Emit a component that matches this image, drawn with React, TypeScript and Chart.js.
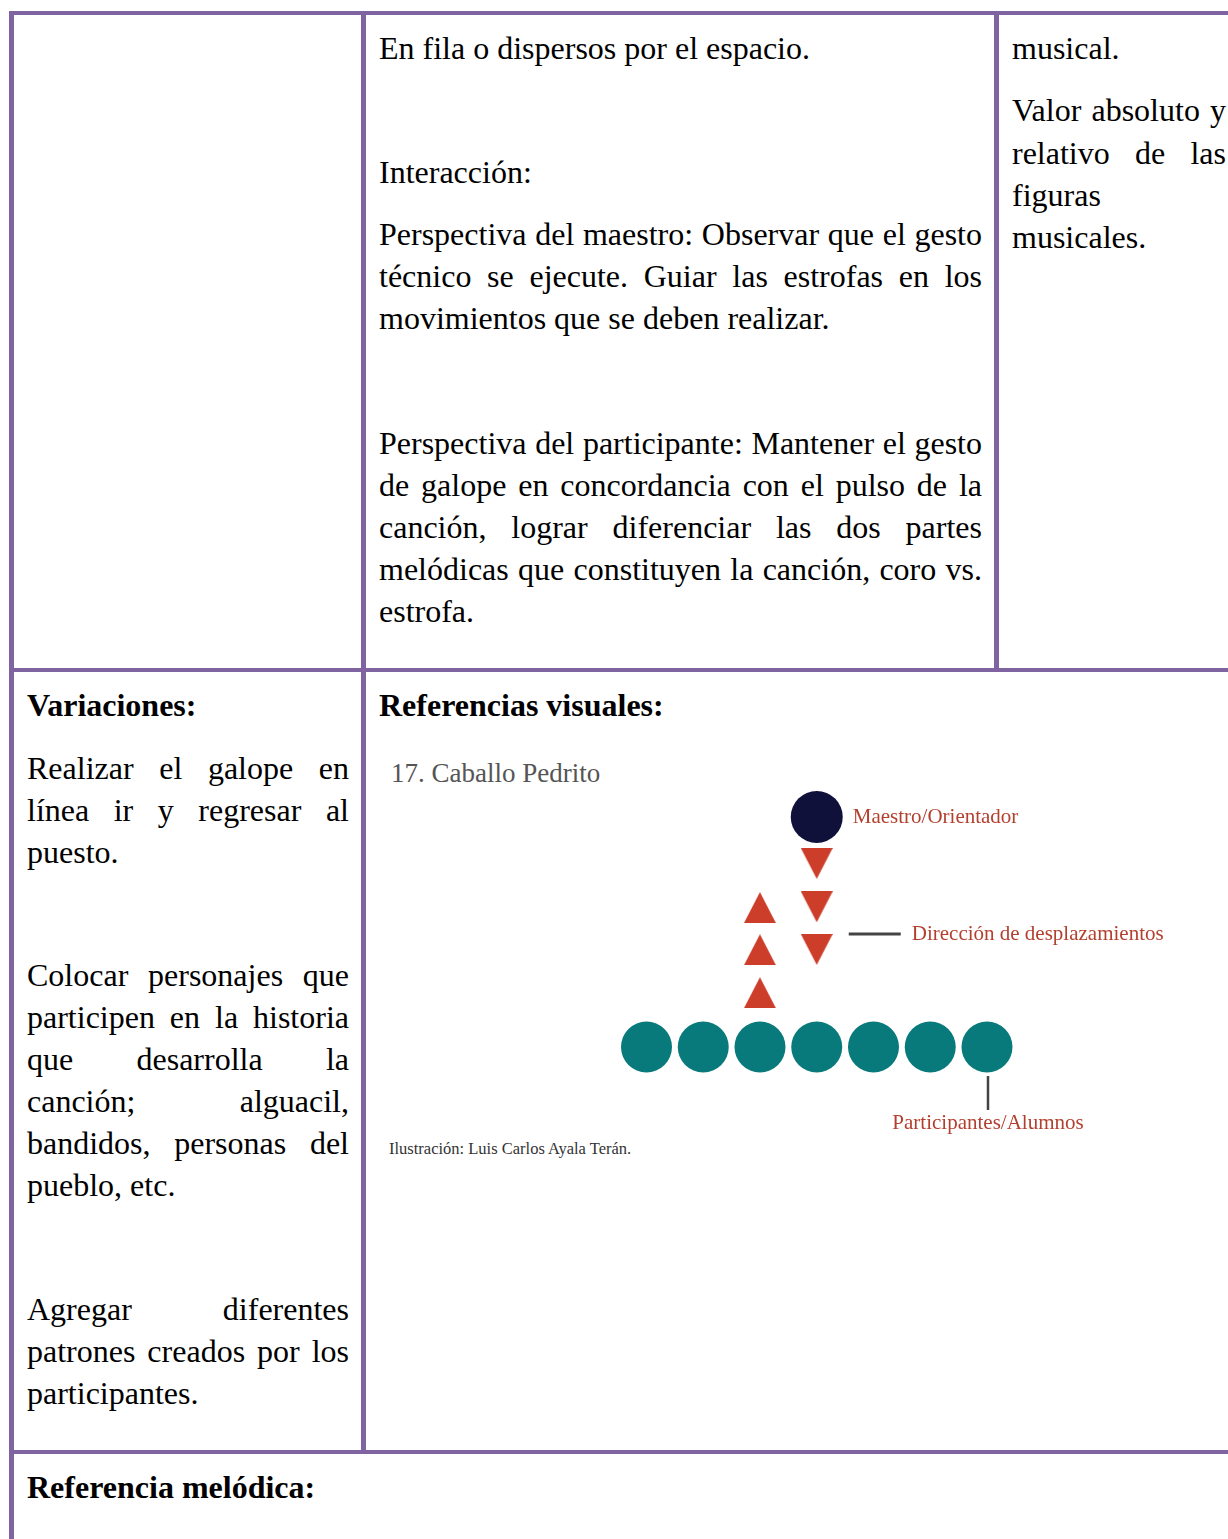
import React, { useEffect, useRef } from "react";
import { Chart, registerables } from "chart.js";

Chart.register(...registerables);

// ---------- diagram data ----------
const participantX = [1, 2, 3, 4, 5, 6, 7];
const participantY = [0, 0, 0, 0, 0, 0, 0];
const teacherX = [4];
const teacherY = [5.35];
const downArrowX = [4, 4, 4];
const downArrowY = [4.27, 3.26, 2.27];
const upArrowX = [3, 3, 3];
const upArrowY = [3.24, 2.26, 1.26];
const noteLabels = ["Maestro/Orientador", "Dirección de desplazamientos", "Participantes/Alumnos"];
const figureTitle = "17. Caballo Pedrito";
const figureCredit = "Ilustración: Luis Carlos Ayala Terán.";

// ---------- table text ----------
const BORDER = "#8064a2";
const FONT = '"Liberation Serif", "Times New Roman", serif';

type Line = { t: string; x: number; y: number; w: number; j?: boolean; b?: boolean };

const textLines: Line[] = [
  { t: "En fila o dispersos por el espacio.", x: 379, y: 48, w: 603 },
  { t: "Interacción:", x: 379, y: 172, w: 603 },
  { t: "Perspectiva del maestro: Observar que el gesto", x: 379, y: 234, w: 603, j: true },
  { t: "técnico se ejecute. Guiar las estrofas en los", x: 379, y: 276, w: 603, j: true },
  { t: "movimientos que se deben realizar.", x: 379, y: 318, w: 603 },
  { t: "Perspectiva del participante: Mantener el gesto", x: 379, y: 443, w: 603, j: true },
  { t: "de galope en concordancia con el pulso de la", x: 379, y: 485, w: 603, j: true },
  { t: "canción, lograr diferenciar las dos partes", x: 379, y: 527, w: 603, j: true },
  { t: "melódicas que constituyen la canción, coro vs.", x: 379, y: 569, w: 603, j: true },
  { t: "estrofa.", x: 379, y: 611, w: 603 },
  { t: "musical.", x: 1012, y: 48, w: 214 },
  { t: "Valor absoluto y", x: 1012, y: 110, w: 214, j: true },
  { t: "relativo de las", x: 1012, y: 153, w: 214, j: true },
  { t: "figuras", x: 1012, y: 195, w: 214 },
  { t: "musicales.", x: 1012, y: 237, w: 214 },
  { t: "Variaciones:", x: 27, y: 705, w: 322, b: true },
  { t: "Referencias visuales:", x: 379, y: 705, w: 603, b: true },
  { t: "Realizar el galope en", x: 27, y: 768, w: 322, j: true },
  { t: "línea ir y regresar al", x: 27, y: 810, w: 322, j: true },
  { t: "puesto.", x: 27, y: 852, w: 322 },
  { t: "Colocar personajes que", x: 27, y: 975, w: 322, j: true },
  { t: "participen en la historia", x: 27, y: 1017, w: 322, j: true },
  { t: "que desarrolla la", x: 27, y: 1059, w: 322, j: true },
  { t: "canción; alguacil,", x: 27, y: 1101, w: 322, j: true },
  { t: "bandidos, personas del", x: 27, y: 1143, w: 322, j: true },
  { t: "pueblo, etc.", x: 27, y: 1185, w: 322 },
  { t: "Agregar diferentes", x: 27, y: 1309, w: 322, j: true },
  { t: "patrones creados por los", x: 27, y: 1351, w: 322, j: true },
  { t: "participantes.", x: 27, y: 1393, w: 322 },
  { t: "Referencia melódica:", x: 27, y: 1487, w: 600, b: true },
];

type Rule = { x: number; y: number; w: number; h: number };
const rules: Rule[] = [
  { x: 9, y: 11, w: 1219, h: 4 },
  { x: 9, y: 11, w: 5, h: 1528 },
  { x: 361, y: 11, w: 5, h: 1443 },
  { x: 994, y: 11, w: 5, h: 661 },
  { x: 9, y: 668, w: 1219, h: 4 },
  { x: 9, y: 1450, w: 1219, h: 4 },
];

function makeTriangle(color: string): HTMLCanvasElement {
  const c = document.createElement("canvas");
  c.width = 32;
  c.height = 31;
  const ctx = c.getContext("2d")!;
  ctx.fillStyle = color;
  ctx.beginPath();
  ctx.moveTo(0, 0);
  ctx.lineTo(32, 0);
  ctx.lineTo(16, 31);
  ctx.closePath();
  ctx.fill();
  return c;
}

const annotations = {
  id: "annotations",
  afterDatasetsDraw(chart: any) {
    const { ctx, scales } = chart;
    const xs = scales.x;
    const ys = scales.y;
    const red = "#b3402f";
    ctx.save();
    ctx.font = "21px " + FONT;
    ctx.fillStyle = red;
    ctx.textBaseline = "alphabetic";
    // teacher label
    const tx = xs.getPixelForValue(teacherX[0]);
    const ty = ys.getPixelForValue(teacherY[0]);
    ctx.textAlign = "left";
    ctx.fillText(noteLabels[0], tx + 36, ty + 6);
    // direction label + leader
    const dx = xs.getPixelForValue(downArrowX[0]);
    const dy = (ys.getPixelForValue(downArrowY[1]) + ys.getPixelForValue(downArrowY[2])) / 2 + 6;
    ctx.strokeStyle = "#444444";
    ctx.lineWidth = 3;
    ctx.beginPath();
    ctx.moveTo(dx + 32, dy);
    ctx.lineTo(dx + 84, dy);
    ctx.stroke();
    ctx.fillText(noteLabels[1], dx + 95, dy + 6);
    // participants label + leader
    const px = xs.getPixelForValue(participantX[6]);
    const py = ys.getPixelForValue(participantY[6]);
    ctx.lineWidth = 2.5;
    ctx.beginPath();
    ctx.moveTo(px + 1, py + 29);
    ctx.lineTo(px + 1, py + 63);
    ctx.stroke();
    ctx.textAlign = "center";
    ctx.fillText(noteLabels[2], px + 1, py + 82);
    ctx.restore();
  },
};

function Diagram() {
  const ref = useRef<HTMLCanvasElement>(null);
  useEffect(() => {
    if (!ref.current) return;
    const tri = makeTriangle("#cc3d2a");
    const toPts = (xs: number[], ys: number[]) => xs.map((x, i) => ({ x, y: ys[i] }));
    const chart = new Chart(ref.current, {
      type: "scatter",
      data: {
        datasets: [
          {
            data: toPts(teacherX, teacherY),
            pointRadius: 26,
            backgroundColor: "#10113b",
            borderWidth: 0,
          },
          {
            data: toPts(downArrowX, downArrowY),
            pointStyle: tri as any,
            pointRadius: 16,
          },
          {
            data: toPts(upArrowX, upArrowY),
            pointStyle: tri as any,
            rotation: 180,
            pointRadius: 16,
          },
          {
            data: toPts(participantX, participantY),
            pointRadius: 25.5,
            backgroundColor: "#087a7b",
            borderWidth: 0,
          },
        ] as any,
      },
      options: {
        animation: false,
        responsive: false,
        devicePixelRatio: 1,
        layout: { padding: 0, autoPadding: false },
        events: [],
        scales: {
          x: { type: "linear", min: -3.696, max: 10.401, display: false },
          y: { type: "linear", min: -2.628, max: 6.674, display: false },
        },
        plugins: { legend: { display: false }, tooltip: { enabled: false } },
      } as any,
      plugins: [annotations],
    });
    return () => chart.destroy();
  }, []);
  return (
    <canvas
      ref={ref}
      width={800}
      height={400}
      style={{ position: "absolute", left: 380, top: 760, width: 800, height: 400 }}
    />
  );
}

export default function App() {
  return (
    <div
      style={{
        position: "absolute",
        left: 0,
        top: 0,
        width: 1228,
        height: 1539,
        overflow: "hidden",
        background: "#fff",
        fontFamily: FONT,
        color: "#000",
      }}
    >
      {rules.map((r, i) => (
        <div
          key={"r" + i}
          style={{ position: "absolute", left: r.x, top: r.y, width: r.w, height: r.h, background: BORDER }}
        />
      ))}
      {textLines.map((l, i) => (
        <div
          key={"t" + i}
          style={{
            position: "absolute",
            left: l.x,
            top: l.y - 21.5,
            width: l.w,
            height: 42,
            lineHeight: "42px",
            fontSize: 32,
            fontWeight: l.b ? "bold" : "normal",
            textAlign: l.j ? "justify" : "left",
            textAlignLast: l.j ? "justify" : "left",
            whiteSpace: l.j ? "normal" : "nowrap",
          } as any}
        >
          {l.t}
        </div>
      ))}
      <div
        style={{
          position: "absolute",
          left: 391,
          top: 758,
          fontSize: 27,
          lineHeight: "30px",
          color: "#555",
          whiteSpace: "nowrap",
        }}
      >
        {figureTitle}
      </div>
      <div
        style={{
          position: "absolute",
          left: 389,
          top: 1139,
          fontSize: 16.5,
          lineHeight: "20px",
          color: "#333",
          whiteSpace: "nowrap",
        }}
      >
        {figureCredit}
      </div>
      <Diagram />
    </div>
  );
}
